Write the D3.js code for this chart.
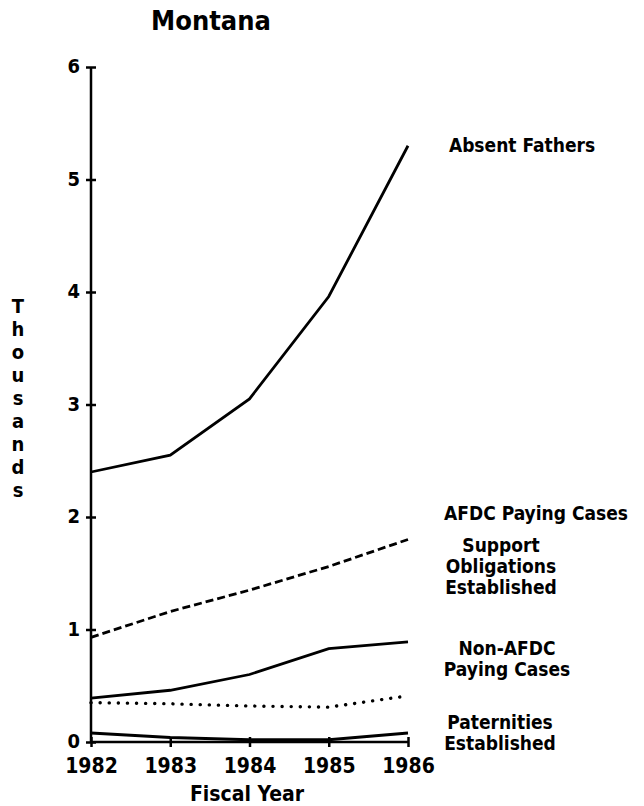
<!DOCTYPE html>
<html>
<head>
<meta charset="utf-8">
<script src="https://cdn.jsdelivr.net/npm/d3@7"></script>
<style>
  body { margin: 0; background: #fff; }
  svg text { font-family: "DejaVu Sans Condensed", "DejaVu Sans", sans-serif; font-weight: bold; fill: #000; }
</style>
</head>
<body>
<script>
const years = [1982, 1983, 1984, 1985, 1986],
    yTicks = [0, 1, 2, 3, 4, 5, 6],
    absentFathers = [2.40, 2.55, 3.05, 3.96, 5.30],
    supportObligations = [0.93, 1.16, 1.35, 1.56, 1.80],
    nonAfdcPaying = [0.39, 0.46, 0.60, 0.83, 0.89],
    afdcPaying = [0.35, 0.34, 0.32, 0.31, 0.41],
    paternities = [0.08, 0.04, 0.02, 0.02, 0.08];

// label text with the value (thousands) its first line sits at
const labels = [
    {lines: ["Absent Fathers"], at: 5.31, x: 522},
    {lines: ["AFDC Paying Cases"], at: 2.04, x: 536},
    {lines: ["Support", "Obligations", "Established"], at: 1.75, x: 501},
    {lines: ["Non-AFDC", "Paying Cases"], at: 0.84, x: 507},
    {lines: ["Paternities", "Established"], at: 0.18, x: 500}
];

const series = [
    {values: absentFathers, dash: null},
    {values: supportObligations, dash: "8,4"},
    {values: nonAfdcPaying, dash: null},
    {values: afdcPaying, dash: "0.1,9"},
    {values: paternities, dash: null}
];

const width = 644, height = 806;

const x = d3.scaleLinear().domain([1982, 1986]).range([91, 408]),
    y = d3.scaleLinear().domain([0, 6]).range([742, 67]);

const svg = d3.select("body").append("svg")
    .attr("width", width)
    .attr("height", height);

svg.append("text")
    .attr("x", 211).attr("y", 30)
    .attr("text-anchor", "middle")
    .style("font-size", "27px")
    .text("Montana");

// y axis, ticks crossing the line
const yAxis = svg.append("g")
    .attr("transform", "translate(" + x(1982) + ",0)")
    .call(d3.axisLeft(y).tickValues(yTicks).tickFormat(d3.format("d")).tickSize(6));
yAxis.select(".domain").attr("d", "M0," + y(6) + "V" + y(0)).attr("stroke-width", 2.5);
yAxis.selectAll(".tick line").attr("x1", -5).attr("x2", 5).attr("stroke-width", 2.5);
yAxis.selectAll(".tick text").attr("x", -11).attr("dy", "0.28em")
    .style("font-size", "20px").style("font-family", "'DejaVu Sans Condensed', 'DejaVu Sans', sans-serif");

const xAxis = svg.append("g")
    .attr("transform", "translate(0," + y(0) + ")")
    .call(d3.axisBottom(x).tickValues(years).tickFormat(d3.format("d")).tickSize(6));
xAxis.select(".domain").attr("d", "M" + x(1982) + ",0H" + x(1986)).attr("stroke-width", 2.5);
xAxis.selectAll(".tick line").attr("y1", -5).attr("y2", 5).attr("stroke-width", 2.5);
xAxis.selectAll(".tick text").attr("y", 31).attr("dy", 0)
    .style("font-size", "21px").style("font-family", "'DejaVu Sans Condensed', 'DejaVu Sans', sans-serif");
svg.selectAll(".domain, .tick line").attr("stroke", "#000");

svg.append("text")
    .attr("x", 247).attr("y", 801)
    .attr("text-anchor", "middle")
    .style("font-size", "21px")
    .text("Fiscal Year");

// stacked y label
const yLabel = svg.append("text")
    .attr("text-anchor", "middle")
    .style("font-size", "20px");
yLabel.selectAll("tspan")
    .data("Thousands".split(""))
    .join("tspan")
    .attr("x", 18)
    .attr("y", (d, i) => 313 + i * 23)
    .text(d => d);

const line = d3.line()
    .x((d, i) => x(years[i]))
    .y(d => y(d));

svg.selectAll(".series")
    .data(series)
    .join("path")
    .attr("class", "series")
    .attr("d", d => line(d.values))
    .attr("fill", "none")
    .attr("stroke", "#000")
    .attr("stroke-width", d => d.dash === "0.1,9" ? 3.4 : 2.8)
    .attr("stroke-linecap", d => d.dash === "0.1,9" ? "round" : "butt")
    .attr("stroke-dasharray", d => d.dash);

const lab = svg.selectAll(".label")
    .data(labels)
    .join("text")
    .attr("class", "label")
    .attr("text-anchor", "middle")
    .style("font-size", "19px");
lab.selectAll("tspan")
    .data(d => d.lines.map((t, i) => ({t, i, d})))
    .join("tspan")
    .attr("x", o => o.d.x)
    .attr("y", o => y(o.d.at) + 7 + o.i * 21)
    .text(o => o.t);
</script>
</body>
</html>
